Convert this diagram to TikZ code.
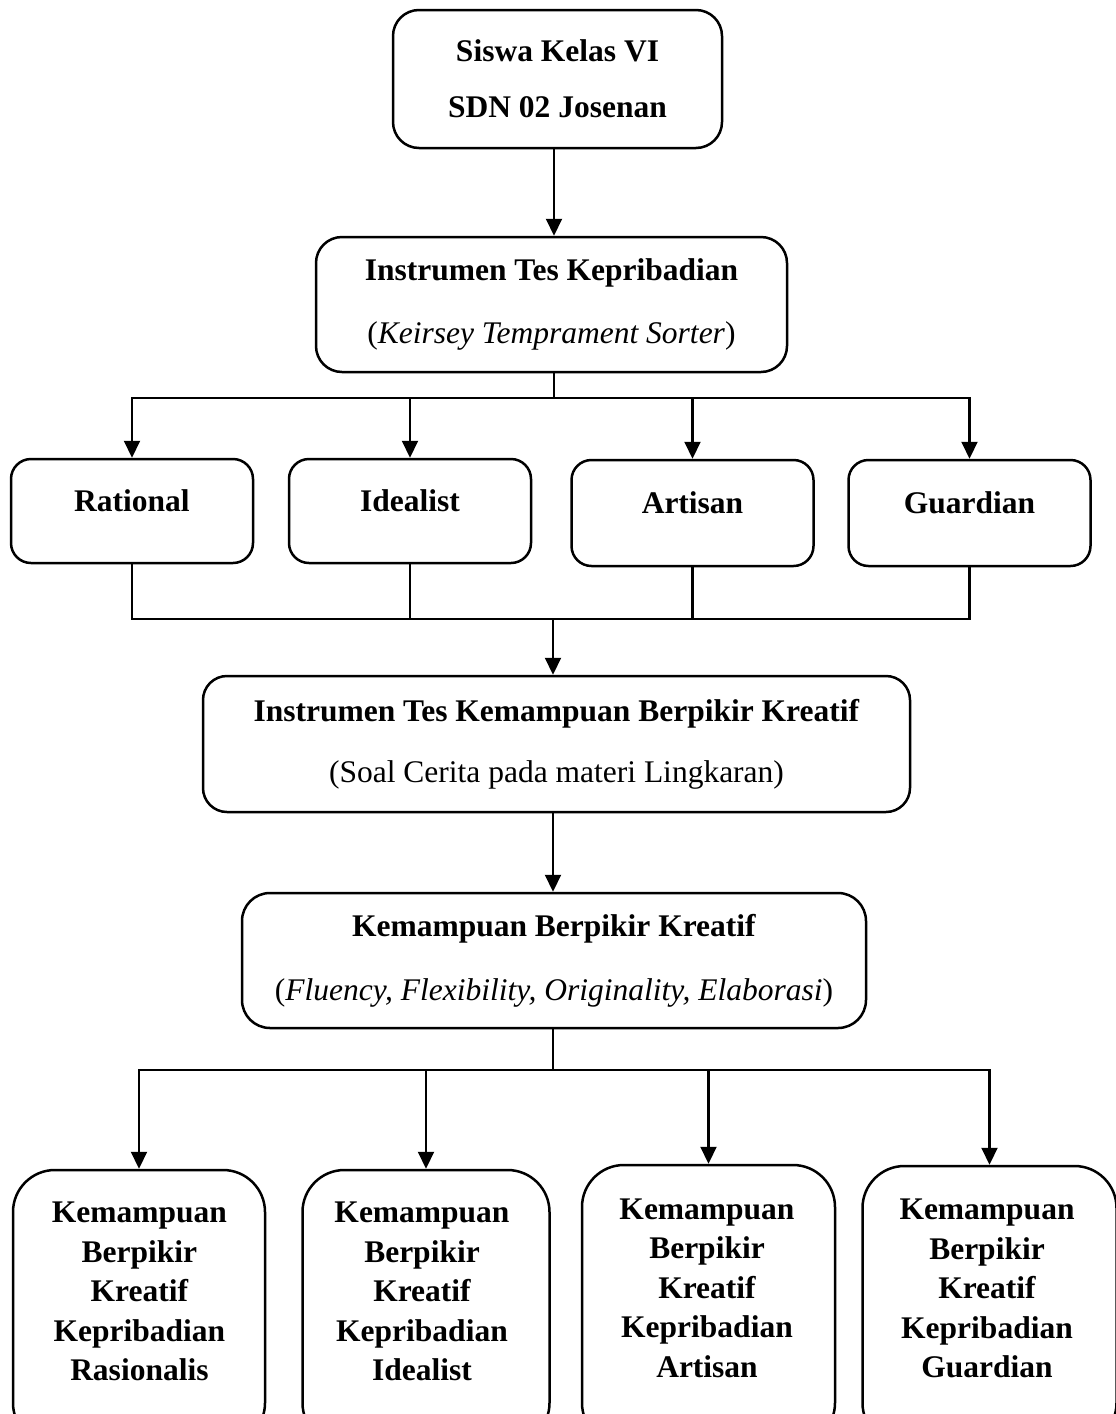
\documentclass[tikz,border=0pt]{standalone}
\usepackage{fontspec}
\setmainfont{Liberation Serif}
\usetikzlibrary{arrows.meta,calc}
\begin{document}
\begin{tikzpicture}[x=1pt,y=-1pt,
  box/.style={draw, line width=2.5pt, inner sep=0pt, align=center,
    font=\fontsize{31.5}{39.5}\selectfont},
  rowbox/.style={box, rounded corners=20pt, minimum width=242pt, minimum height=104pt,
    font=\fontsize{31.5}{39.5}\selectfont\bfseries, text height=23pt, text depth=23pt},
  endbox/.style={draw, line width=2.5pt, inner sep=0pt, rounded corners=42pt},
  conn/.style={line width=2.1pt, line cap=rect},
  arr/.style={line width=2.1pt, -{Triangle[length=17pt,width=16pt]}},
  lbl/.style={inner sep=0pt, align=center, font=\fontsize{31.5}{39.5}\selectfont\bfseries}]
\useasboundingbox (0,0) rectangle (1116,1414);
\clip (0,0) rectangle (1116,1414);
\fill[white] (0,0) rectangle (1116,1414);

% main chain
\node[box, rounded corners=26pt, minimum width=329pt, minimum height=138pt] (top) at (557.5,79)
  {\textbf{Siswa Kelas VI}\\[16.5pt]\textbf{SDN 02 Josenan}};
\node[box, rounded corners=26pt, minimum width=471pt, minimum height=135pt] (b2) at (551.5,304.5)
  {\textbf{Instrumen Tes Kepribadian}\\[23.5pt](\textit{Keirsey Temprament Sorter})};

\node[rowbox] (rat) at (132,511) {Rational};
\node[rowbox] (ide) at (410,511) {Idealist};
\node[rowbox, minimum height=106pt] (art) at (692.5,513) {Artisan};
\node[rowbox, minimum height=106pt] (gua) at (969.5,513) {Guardian};

\node[box, rounded corners=24pt, minimum width=707pt, minimum height=136pt] (b3) at (556.5,744)
  {\textbf{Instrumen Tes Kemampuan Berpikir Kreatif}\\[21.5pt](Soal Cerita pada materi Lingkaran)};
\node[box, rounded corners=28pt, minimum width=624pt, minimum height=135pt] (b4) at (554,960.5)
  {\textbf{Kemampuan Berpikir Kreatif}\\[24.5pt](\textit{Fluency, Flexibility, Originality, Elaborasi})};

% bottom boxes (cut by the lower edge)
\node[endbox, minimum width=252pt, minimum height=275pt] (k1) at (139,1307.5) {};
\node[endbox, minimum width=247pt, minimum height=275pt] (k2) at (426,1307.5) {};
\node[endbox, minimum width=253pt, minimum height=280pt] (k3) at (708.5,1305) {};
\node[endbox, minimum width=254pt, minimum height=279pt] (k4) at (989.5,1305.5) {};
\node[lbl, anchor=north] (k1t) at (139.4,1202) {Kemampuan\\Berpikir\\Kreatif\\Kepribadian\\Rasionalis};
\node[lbl, anchor=north] (k2t) at (422,1202) {Kemampuan\\Berpikir\\Kreatif\\Kepribadian\\Idealist};
\node[lbl, anchor=north] (k3t) at (707,1198.5) {Kemampuan\\Berpikir\\Kreatif\\Kepribadian\\Artisan};
\node[lbl, anchor=north] (k4t) at (987,1199) {Kemampuan\\Berpikir\\Kreatif\\Kepribadian\\Guardian};

% connectors
\coordinate (cx) at (554,0);
\draw[arr] (cx |- top.south) -- (cx |- b2.north);

\coordinate (j1) at (554,398);
\draw[conn] (cx |- b2.south) -- (j1);
\draw[conn] (rat.north |- j1) -- (gua.north |- j1);
\foreach \n in {rat,ide,art,gua}{
  \draw[arr] (\n.north |- j1) -- (\n.north);
}

\coordinate (j2) at (553,619);
\foreach \n in {rat,ide,art,gua}{
  \draw[conn] (\n.south) -- (\n.south |- j2);
}
\draw[conn] (rat.south |- j2) -- (gua.south |- j2);
\draw[arr] (j2) -- (j2 |- b3.north);
\draw[arr] (j2 |- b3.south) -- (j2 |- b4.north);

\coordinate (j3) at (553,1070);
\draw[conn] (j3 |- b4.south) -- (j3);
\draw[conn] (k1.north |- j3) -- (k4.north |- j3);
\foreach \n in {k1,k2,k3,k4}{
  \draw[arr] (\n.north |- j3) -- (\n.north);
}
\end{tikzpicture}
\end{document}
